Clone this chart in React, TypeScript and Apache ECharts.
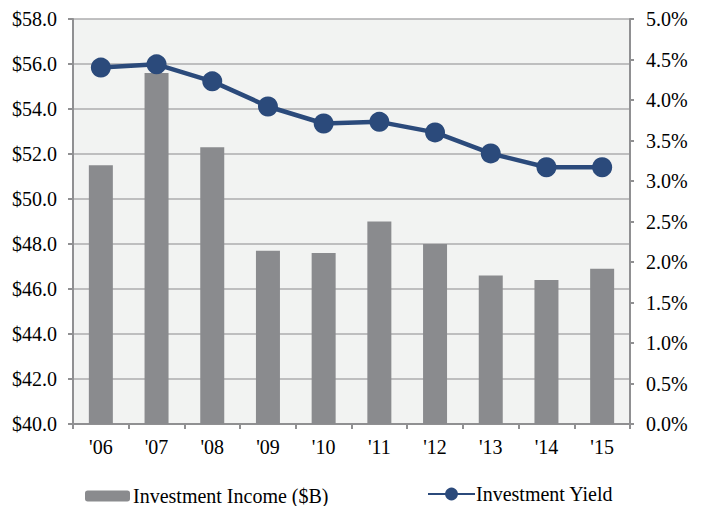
import React, { useEffect, useRef } from "react";
import * as echarts from "echarts";

const years = ["'06", "'07", "'08", "'09", "'10", "'11", "'12", "'13", "'14", "'15"];
const investmentIncome = [51.5, 55.6, 52.3, 47.7, 47.6, 49.0, 48.0, 46.6, 46.4, 46.9];
const investmentYield = [4.4, 4.44, 4.23, 3.92, 3.71, 3.73, 3.6, 3.34, 3.17, 3.17];

const FONT = "Liberation Serif, Times New Roman, serif";
const FONT_SIZE = 20;
const TEXT_COLOR = "#000000";
const AXIS_GREY = "#909092";
const GRID_GREY = "#acacae";

export default function App() {
  const ref = useRef<HTMLDivElement>(null);

  useEffect(() => {
    if (!ref.current) return;
    const chart = echarts.init(ref.current, null, { renderer: "svg" });
    const label = { fontFamily: FONT, fontSize: FONT_SIZE, color: TEXT_COLOR };
    chart.setOption({
      animation: false,
      backgroundColor: "#ffffff",
      textStyle: { fontFamily: FONT },
      grid: {
        left: 73,
        right: 71,
        top: 19,
        bottom: 82,
        show: true,
        backgroundColor: "#f2f3f2",
        borderWidth: 0,
      },
      legend: [
        {
          data: ["Investment Income ($B)"],
          left: 80,
          top: 481,
          itemWidth: 45,
          itemHeight: 11,
          itemGap: 4,
          textStyle: { ...label, padding: [0, 0, 0, -2] },
        },
        {
          data: ["Investment Yield"],
          left: 422,
          top: 479,
          itemWidth: 47,
          itemHeight: 16,
          textStyle: { ...label, padding: [0, 0, 0, -4] },
        },
      ],
      xAxis: {
        type: "category",
        data: years,
        boundaryGap: true,
        axisLine: { show: true, lineStyle: { color: AXIS_GREY, width: 2 } },
        axisTick: { show: true, length: 5, alignWithLabel: false, lineStyle: { color: AXIS_GREY, width: 2 } },
        axisLabel: { ...label, margin: 13 },
        splitLine: { show: false },
      },
      yAxis: [
        {
          type: "value",
          min: 40,
          max: 58,
          interval: 2,
          position: "left",
          axisLine: { show: true, lineStyle: { color: AXIS_GREY, width: 2 } },
          axisTick: { show: true, length: 5, lineStyle: { color: AXIS_GREY, width: 2 } },
          axisLabel: {
            ...label,
            margin: 16,
            formatter: (v: number) => "$" + v.toFixed(1),
          },
          splitLine: { show: true, lineStyle: { color: GRID_GREY, width: 1.5 } },
        },
        {
          type: "value",
          min: 0,
          max: 5,
          interval: 0.5,
          position: "right",
          axisLine: { show: true, lineStyle: { color: AXIS_GREY, width: 2 } },
          axisTick: { show: true, length: 4, lineStyle: { color: AXIS_GREY, width: 2 } },
          axisLabel: {
            ...label,
            margin: 16,
            formatter: (v: number) => v.toFixed(1) + "%",
          },
          splitLine: { show: false },
        },
      ],
      series: [
        {
          name: "Investment Income ($B)",
          type: "bar",
          yAxisIndex: 0,
          data: investmentIncome,
          barWidth: 24,
          itemStyle: { color: "#8a8b8e" },
          z: 2,
        },
        {
          name: "Investment Yield",
          type: "line",
          yAxisIndex: 1,
          data: investmentYield,
          symbol: "circle",
          symbolSize: 20,
          lineStyle: { color: "#2b4a7b", width: 4.5 },
          itemStyle: { color: "#2b4a7b" },
          z: 3,
        },
      ],
    });
    return () => chart.dispose();
  }, []);

  return (
    <div
      ref={ref}
      style={{ position: "absolute", left: 0, top: 0, width: 701, height: 506 }}
    />
  );
}
